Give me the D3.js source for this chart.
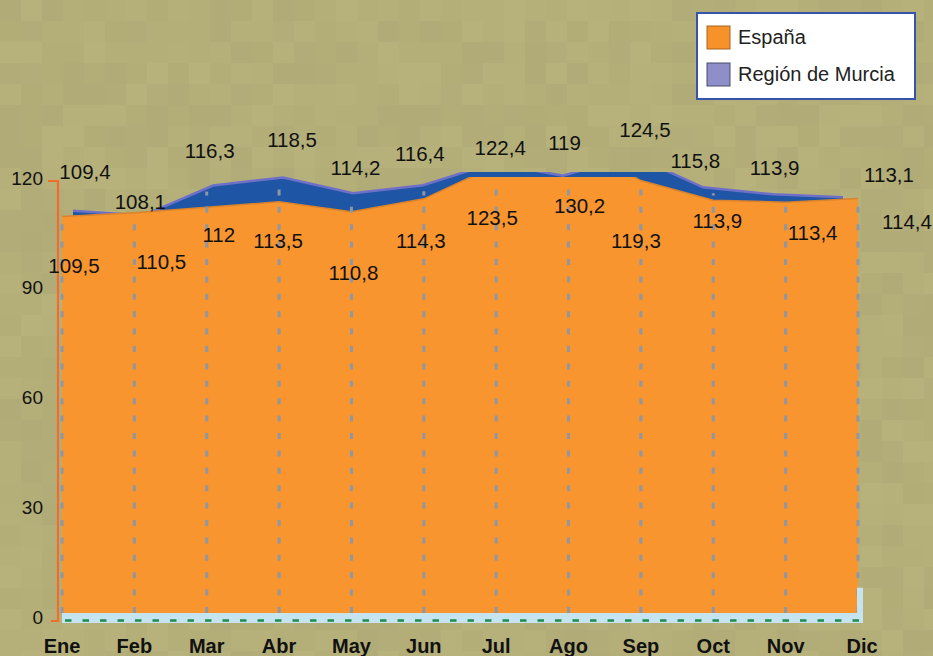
<!DOCTYPE html>
<html>
<head>
<meta charset="utf-8">
<script src="https://cdn.jsdelivr.net/npm/d3@7"></script>
<style>
  html, body { margin: 0; padding: 0; background: #b3ae78; }
  svg { display: block; font-family: 'Liberation Sans', Arial, sans-serif; }
</style>
</head>
<body>
<svg width="933" height="656"></svg>
<script>
const months = ['Ene', 'Feb', 'Mar', 'Abr', 'May', 'Jun', 'Jul', 'Ago', 'Sep', 'Oct', 'Nov', 'Dic']
const espana = [109.5, 110.5, 112, 113.5, 110.8, 114.3, 123.5, 130.2, 119.3, 113.9, 113.4, 114.4]
const murcia = [109.4, 108.1, 116.3, 118.5, 114.2, 116.4, 122.4, 119, 124.5, 115.8, 113.9, 113.1]
const yTicks = [0, 30, 60, 90, 120]
const seriesNames = ['España', 'Región de Murcia']

// label nudges (the original places labels loosely around the 3d points)
const murciaNudge = [[23, -45], [6, -20], [3, -41], [13, -44], [4, -31], [-4, -37], [4, -21], [-4, -39], [4, -32], [-18, -33], [-11, -32], [31, -28]]
const espanaNudge = [[12, 49], [27, 49], [12, 28], [-1, 39], [2, 61], [-3, 42], [-4, 53], [11, 65], [-5, 60], [4, 21], [27, 31], [49, 23]]

const svg = d3.select('svg')
const fmt = v => String(v).replace('.', ',')

// mottled background
const bg = svg.append('g')
const cell = 21
for (let i = 0; i < 45; i++) {
  for (let j = 0; j < 32; j++) {
    const h = Math.abs(Math.sin(i * 12.9898 + j * 78.233) * 43758.5453) % 1
    const k = (h - 0.5) * 7
    bg.append('rect')
      .attr('x', i * cell).attr('y', j * cell)
      .attr('width', cell).attr('height', cell)
      .attr('fill', d3.rgb(180 + k, 175 + k, 121 + k * 0.7))
  }
}

const x = d3.scalePoint().domain(months).range([62, 858])
const xBack = d3.scalePoint().domain(months).range([73, 843])
const y = d3.scaleLinear().domain([0, 120]).range([617, 178])
const yBack = d3.scaleLinear().domain([0, 120]).range([611, 172])

const defs = svg.append('defs')
defs.append('clipPath').attr('id', 'clipBack')
  .append('rect').attr('x', 0).attr('y', yBack(120)).attr('width', 933).attr('height', 600)
defs.append('clipPath').attr('id', 'clipFront')
  .append('rect').attr('x', 0).attr('y', y(120) - 1).attr('width', 933).attr('height', 600)

// back series: Región de Murcia
const areaBack = d3.area()
  .x((d, i) => xBack(months[i]))
  .y0(yBack(0))
  .y1(d => yBack(d))
const lineBack = d3.line()
  .x((d, i) => xBack(months[i]))
  .y(d => yBack(d))

const back = svg.append('g').attr('clip-path', 'url(#clipBack)')
back.append('path')
  .datum(murcia)
  .attr('d', areaBack)
  .attr('fill', '#1f55a5')
back.append('path')
  .datum(murcia)
  .attr('d', lineBack)
  .attr('fill', 'none')
  .attr('stroke', '#6e70c8')
  .attr('stroke-width', 2.5)

// front series: España
const areaFront = d3.area()
  .x((d, i) => x(months[i]))
  .y0(y(0) - 4)
  .y1(d => y(d))
const lineFront = d3.line()
  .x((d, i) => x(months[i]))
  .y(d => y(d))

const front = svg.append('g').attr('clip-path', 'url(#clipFront)')
front.append('path')
  .datum(espana)
  .attr('d', areaFront)
  .attr('fill', '#f8952e')
front.append('path')
  .datum(espana)
  .attr('d', lineFront)
  .attr('fill', 'none')
  .attr('stroke', '#d9832c')
  .attr('stroke-width', 1.5)

// vertical dashed gridlines
svg.append('g')
  .selectAll('line')
  .data(months)
  .join('line')
  .attr('x1', d => x(d)).attr('x2', d => x(d))
  .attr('y1', y(0) - 4)
  .attr('y2', (d, i) => Math.max(y(120), Math.min(y(espana[i]), yBack(murcia[i]))) + 6)
  .attr('stroke', '#8d97a6')
  .attr('stroke-width', 3)
  .attr('stroke-dasharray', '6,11.4')

// floor
svg.append('rect')
  .attr('x', x('Ene')).attr('y', y(0) - 4)
  .attr('width', x('Dic') - x('Ene') + 5).attr('height', 10)
  .attr('fill', '#c6e4ef')
svg.append('rect')
  .attr('x', x('Dic') - 1).attr('y', y(8))
  .attr('width', 6).attr('height', y(0) - y(8) + 6)
  .attr('fill', '#c6e4ef')
svg.append('line')
  .attr('x1', x('Ene') + 3).attr('x2', x('Dic') + 4)
  .attr('y1', y(0) + 3.5).attr('y2', y(0) + 3.5)
  .attr('stroke', '#1f8a4e')
  .attr('stroke-width', 2.5)
  .attr('stroke-dasharray', '6.5,11')

// y axis
const yAxis = svg.append('g')
yAxis.append('path')
  .attr('d', `M48,${y(120) + 3}H58V${y(0) + 4}H51`)
  .attr('fill', 'none')
  .attr('stroke', '#f26c2c')
  .attr('stroke-width', 2.2)
yAxis.selectAll('text')
  .data(yTicks)
  .join('text')
  .attr('x', 43)
  .attr('y', d => y(d))
  .attr('dy', '0.35em')
  .attr('text-anchor', 'end')
  .attr('font-size', 19)
  .attr('fill', '#111')
  .text(d => d)

// month labels
svg.append('g')
  .selectAll('text')
  .data(months)
  .join('text')
  .attr('x', d => x(d) + (d === 'Dic' ? 4 : 0))
  .attr('y', 653)
  .attr('text-anchor', 'middle')
  .attr('font-size', 20)
  .attr('font-weight', 'bold')
  .attr('fill', '#111')
  .text(d => d)

// value labels
const labels = svg.append('g')
  .attr('font-size', 20.5)
  .attr('fill', '#111')
  .attr('text-anchor', 'middle')
labels.selectAll('text.m')
  .data(murcia)
  .join('text')
  .attr('class', 'm')
  .attr('x', (d, i) => x(months[i]) + murciaNudge[i][0])
  .attr('y', (d, i) => y(d) + murciaNudge[i][1])
  .attr('dy', '0.35em')
  .text(fmt)
labels.selectAll('text.e')
  .data(espana)
  .join('text')
  .attr('class', 'e')
  .attr('x', (d, i) => x(months[i]) + espanaNudge[i][0])
  .attr('y', (d, i) => y(d) + espanaNudge[i][1])
  .attr('dy', '0.35em')
  .text(fmt)

// legend
const legend = svg.append('g').attr('transform', 'translate(697,13)')
legend.append('rect')
  .attr('width', 218).attr('height', 86)
  .attr('fill', '#fff')
  .attr('stroke', '#3654ac')
  .attr('stroke-width', 2)
const swatchColors = ['#f7922a', '#8e8fc9']
const swatchStrokes = ['#a8621e', '#4a4a6a']
const item = legend.selectAll('g')
  .data(seriesNames)
  .join('g')
  .attr('transform', (d, i) => `translate(10,${13 + i * 37})`)
item.append('rect')
  .attr('width', 23).attr('height', 23)
  .attr('fill', (d, i) => swatchColors[i])
  .attr('stroke', (d, i) => swatchStrokes[i])
  .attr('stroke-width', 1)
item.append('text')
  .attr('x', 31).attr('y', 18)
  .attr('font-size', 20)
  .attr('fill', '#222')
  .text(d => d)
</script>
</body>
</html>
